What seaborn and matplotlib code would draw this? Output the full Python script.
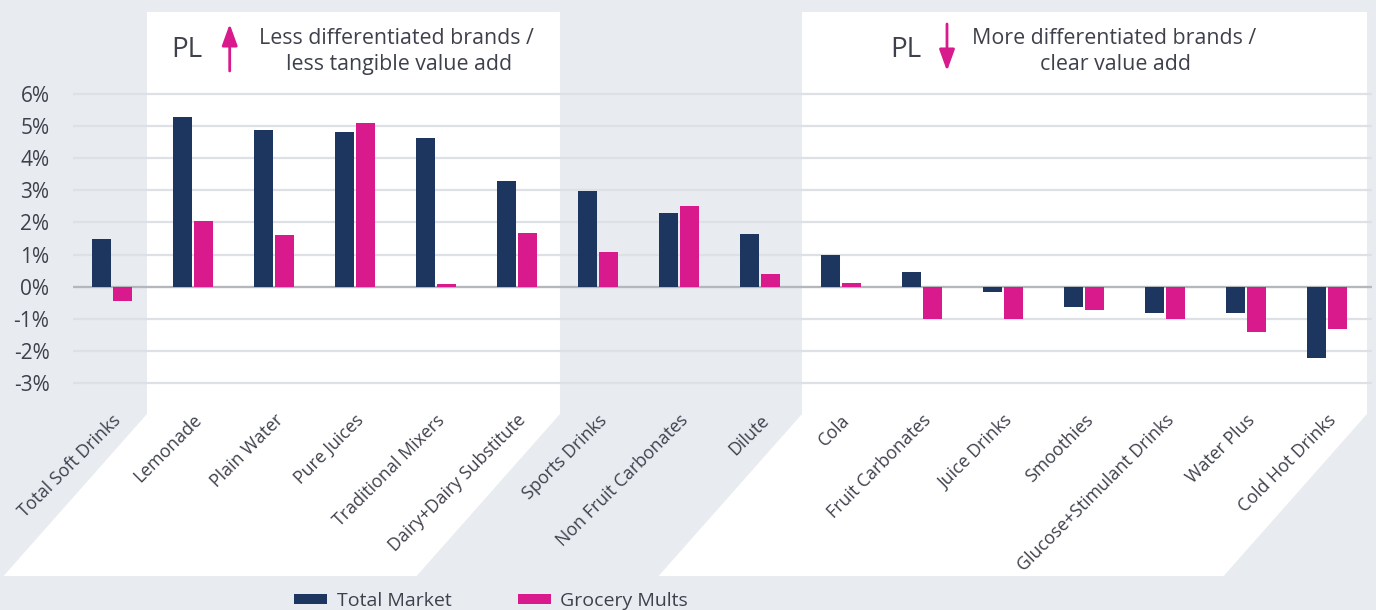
import numpy as np
import pandas as pd
import matplotlib
matplotlib.use("Agg")
import matplotlib.pyplot as plt
import matplotlib.transforms as mtransforms
from matplotlib.patches import Polygon, FancyArrowPatch
import seaborn as sns

# ---------------- data ----------------
categories = ["Total Soft Drinks", "Lemonade", "Plain Water", "Pure Juices",
              "Traditional Mixers", "Dairy+Dairy Substitute", "Sports Drinks",
              "Non Fruit Carbonates", "Dilute", "Cola", "Fruit Carbonates",
              "Juice Drinks", "Smoothies", "Glucose+Stimulant Drinks",
              "Water Plus", "Cold Hot Drinks"]
total_market = [1.49, 5.28, 4.87, 4.81, 4.62, 3.30, 2.99, 2.30, 1.65, 0.99,
                0.46, -0.17, -0.64, -0.82, -0.82, -2.23]
grocery_mults = [-0.44, 2.04, 1.60, 5.09, 0.07, 1.68, 1.08, 2.52, 0.40, 0.12,
                 -1.00, -1.00, -0.73, -1.00, -1.42, -1.32]
series_names = ["Total Market", "Grocery Mults"]
y_ticks = [-3, -2, -1, 0, 1, 2, 3, 4, 5, 6]
y_tick_labels = [f"{v}%" for v in y_ticks]
left_note = ["Less differentiated brands /", "less tangible value add"]
right_note = ["More differentiated brands /", "clear value add"]

df = pd.DataFrame({
    "category": categories * 2,
    "value": total_market + grocery_mults,
    "series": [series_names[0]] * len(categories) + [series_names[1]] * len(categories),
})

# ---------------- style ----------------
W, H = 1376, 610
BG = "#E8EBF0"
NAVY = "#1C365F"
PINK = "#D91A8C"
TEXT = "#3E414C"
GRID = "#DDE0E4"
ZERO = "#B4B7BC"

sns.set_theme(style="white")
plt.rcParams['font.family'] = ['Open Sans', 'DejaVu Sans']


def fx(px):
    return px / W


def fy(py):
    return 1 - py / H


fig = plt.figure(figsize=(W / 100, H / 100), dpi=100, facecolor=BG)
ax = fig.add_axes([fx(73), fy(414), (1371.7 - 73) / W, (414 - 12) / H])
ax.set_facecolor('none')

sns.barplot(data=df, x="category", y="value", hue="series",
            palette=[NAVY, PINK], width=0.52, gap=0.1, saturation=1,
            linewidth=0, ax=ax, order=categories, hue_order=series_names,
            errorbar=None)

ax.set_xlim(-0.481, 15.552)
ax.set_ylim(-3.97, 8.56)

# white panels (decoration)
trans = mtransforms.blended_transform_factory(ax.transData, ax.transAxes)
slant = 1.77
ybot = -0.403
for x0, x1 in [(0.432, 5.531), (8.519, 15.494)]:
    poly = Polygon([(x0, 1), (x1, 1), (x1, 0), (x1 - slant, ybot),
                    (x0 - slant, ybot), (x0, 0)], closed=True,
                   facecolor="white", edgecolor="none", transform=trans,
                   clip_on=False, zorder=0.1)
    ax.add_patch(poly)

# grid
ax.set_axisbelow(True)
ax.set_yticks(y_ticks)
ax.set_yticklabels(y_tick_labels)
ax.grid(axis='y', color=GRID, lw=1.6)
ax.grid(axis='x', visible=False)
ax.axhline(0, color=ZERO, lw=1.6, zorder=0.6)
for s in ax.spines.values():
    s.set_visible(False)

ax.tick_params(axis='y', length=0, pad=17, labelsize=15, labelcolor=TEXT)
ax.set_xticks(range(len(categories)))
ax.set_xticklabels(categories, rotation=45, ha='right', rotation_mode='anchor')
ax.tick_params(axis='x', length=0, pad=-2, labelsize=12.8, labelcolor=TEXT)
ax.set_xlabel("")
ax.set_ylabel("")

# legend
sns.move_legend(ax, loc="center", bbox_to_anchor=(fx(491), fy(601)),
                bbox_transform=fig.transFigure, ncol=2, frameon=False,
                title=None, fontsize=14, handlelength=1.7, handleheight=0.45,
                handletextpad=0.5, columnspacing=3.4)
for t in ax.get_legend().get_texts():
    t.set_color(TEXT)

# annotations
fig.text(fx(187), fy(57), "PL", ha='center', va='baseline', fontsize=20, color=TEXT)
fig.text(fx(906), fy(57), "PL", ha='center', va='baseline', fontsize=20, color=TEXT)
fig.text(fx(396), fy(44), left_note[0], ha='center', va='baseline', fontsize=15.4, color=TEXT)
fig.text(fx(399), fy(70), left_note[1], ha='center', va='baseline', fontsize=15.4, color=TEXT)
fig.text(fx(1114), fy(44), right_note[0], ha='center', va='baseline', fontsize=15.4, color=TEXT)
fig.text(fx(1116), fy(70), right_note[1], ha='center', va='baseline', fontsize=15.4, color=TEXT)

for (xa, ya0, ya1) in [(229.7, 71, 24), (947, 24, 71)]:
    arr = FancyArrowPatch((fx(xa), fy(ya0)), (fx(xa), fy(ya1)),
                          transform=fig.transFigure,
                          arrowstyle='-|>,head_length=1.3,head_width=0.47',
                          mutation_scale=10, color=PINK, lw=2,
                          shrinkA=0, shrinkB=0)
    fig.add_artist(arr)

fig.savefig("out.png", dpi=100, facecolor=BG)
